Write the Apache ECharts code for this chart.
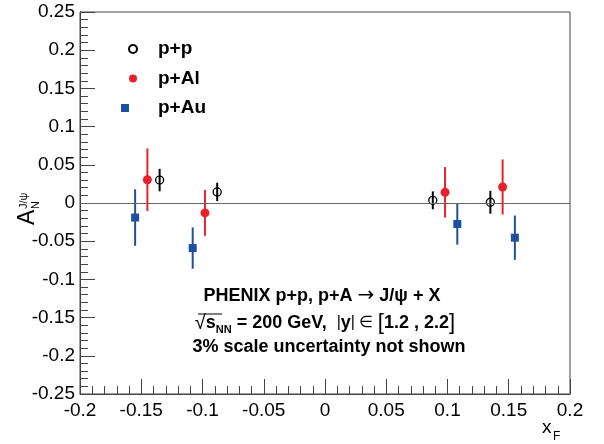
<!DOCTYPE html>
<html>
<head>
<meta charset="utf-8">
<script src="https://cdn.jsdelivr.net/npm/echarts@6/dist/echarts.min.js"></script>
<style>
html, body { margin: 0; padding: 0; background: #fff; }
#main { width: 604px; height: 444px; }
</style>
</head>
<body>
<div id="main"></div>
<script>
// p+p
var ppX = [-0.135, -0.088, 0.088, 0.135];
var ppY = [0.030, 0.0145, 0.0035, 0.001];
var ppErr = [0.0147, 0.012, 0.0117, 0.015];
// p+Al
var alX = [-0.145, -0.098, 0.098, 0.145];
var alY = [0.0305, -0.013, 0.014, 0.021];
var alErr = [0.041, 0.030, 0.033, 0.036];
// p+Au
var auX = [-0.155, -0.108, 0.108, 0.155];
var auY = [-0.019, -0.059, -0.0275, -0.0454];
var auErr = [0.037, 0.027, 0.027, 0.029];

var legendName = ['p+p', 'p+Al', 'p+Au'];
var xRange = [-0.2, 0.2];
var yRange = [-0.25, 0.25];

var FONT = 'Liberation Sans, Arial, sans-serif';
var RED = '#e8222a';
var BLUE = '#1f4f9f';

function toPoints(xs, ys, errs) {
    var arr = [];
    for (var i = 0, len = xs.length; i < len; i++) {
        arr.push([xs[i], ys[i], errs[i]]);
    }
    return arr;
}

//误差棒
function errorBar(name, color, width, xs, ys, errs) {
    return {
        name: name + ' err',
        type: 'custom',
        z: 3,
        data: toPoints(xs, ys, errs),
        renderItem: function(params, api) {
            var x = api.value(0), y = api.value(1), e = api.value(2);
            var p1 = api.coord([x, y + e]);
            var p2 = api.coord([x, y - e]);
            return {
                type: 'line',
                shape: { x1: p1[0], y1: p1[1], x2: p2[0], y2: p2[1] },
                style: { stroke: color, lineWidth: width }
            };
        }
    };
}

function marker(name, symbol, size, itemStyle, xs, ys) {
    var data = [];
    for (var i = 0, len = xs.length; i < len; i++) {
        data.push([xs[i], ys[i]]);
    }
    itemStyle.opacity = 1;
    return {
        name: name,
        type: 'scatter',
        symbol: symbol,
        symbolSize: size,
        z: 4,
        itemStyle: itemStyle,
        data: data
    };
}

var axisStyle = {
    axisLine: { show: true, onZero: false, lineStyle: { color: '#444', width: 1 } },
    axisTick: { show: true, inside: true, length: 15, lineStyle: { color: '#444' } },
    minorTick: { show: true, splitNumber: 5, length: 8, lineStyle: { color: '#444' } },
    splitLine: { show: false }
};

var pp = marker('p+p', 'circle', 8, { color: 'rgba(255,255,255,0)', borderColor: '#000', borderWidth: 1.3 }, ppX, ppY);
pp.markLine = {
    silent: true,
    symbol: 'none',
    label: { show: false },
    lineStyle: { color: '#666', width: 1, type: 'solid' },
    data: [{ yAxis: 0 }]
};

var option = {
    animation: false,
    backgroundColor: '#fff',
    grid: { left: 80, right: 34, top: 12, bottom: 50, show: true, borderColor: '#444', borderWidth: 1 },
    xAxis: Object.assign({
        type: 'value',
        min: xRange[0],
        max: xRange[1],
        interval: 0.05
    }, axisStyle, {
        axisLabel: { color: '#000', fontSize: 19, fontFamily: FONT, margin: 7, showMinLabel: true, showMaxLabel: true }
    }),
    yAxis: Object.assign({
        type: 'value',
        min: yRange[0],
        max: yRange[1],
        interval: 0.05
    }, axisStyle, {
        axisLabel: { color: '#000', fontSize: 19, fontFamily: FONT, margin: 5, showMinLabel: true, showMaxLabel: true }
    }),
    legend: {
        data: legendName,
        orient: 'vertical',
        left: 116,
        top: 33,
        itemWidth: 24,
        itemHeight: 8,
        itemGap: 7.5,
        textStyle: { color: '#000', fontSize: 19, fontWeight: 'bold', fontFamily: FONT, lineHeight: 22, padding: [0, 0, 0, 8] }
    },
    series: [
        errorBar('p+Au', BLUE, 2, auX, auY, auErr),
        errorBar('p+Al', RED, 2, alX, alY, alErr),
        marker('p+Au', 'square', 8, { color: BLUE }, auX, auY),
        marker('p+Al', 'circle', 9, { color: RED }, alX, alY),
        pp,
        errorBar('p+p', '#000', 2, ppX, ppY, ppErr)
    ],
    graphic: [
        // 纵轴标题 A_N^{J/psi}
        {
            type: 'group', x: 39, y: 225, rotation: Math.PI / 2,
            children: [
                { type: 'text', x: 0, y: 0, style: { text: 'A', font: '23px ' + FONT, fill: '#000', textVerticalAlign: 'bottom' } },
                { type: 'text', x: 16, y: 2, style: { text: 'N', font: '11px ' + FONT, fill: '#000', textVerticalAlign: 'bottom' } },
                { type: 'text', x: 16, y: -10, style: { text: 'J/\u03c8', font: '11px ' + FONT, fill: '#000', textVerticalAlign: 'bottom' } }
            ]
        },
        // 横轴标题 x_F
        { type: 'text', x: 542, y: 437, style: { text: 'x', font: '19px ' + FONT, fill: '#000', textVerticalAlign: 'bottom' } },
        { type: 'text', x: 553, y: 443, style: { text: 'F', font: '12px ' + FONT, fill: '#000', textVerticalAlign: 'bottom' } },
        // 说明文字
        {
            type: 'text', x: 322, y: 296,
            style: {
                text: '{b|PHENIX p+p, p+A }{a|\u2192}{b| J/\u03c8 + X}',
                textAlign: 'center',
                textVerticalAlign: 'middle',
                rich: {
                    b: { fontSize: 18, fontWeight: 'bold', fontFamily: FONT, color: '#000', lineHeight: 24 },
                    a: { fontSize: 20, fontFamily: 'DejaVu Sans', color: '#000', lineHeight: 24 }
                }
            }
        },
        {
            type: 'text', x: 325, y: 323,
            style: {
                text: '{r|\u221a}{b|s}{sub|NN}{b| = 200 GeV,  }{n||}{b|y}{n||}{n| \u2208 }{k|[}{b|1.2 , 2.2}{k|]}',
                textAlign: 'center',
                textVerticalAlign: 'middle',
                rich: {
                    r: { fontSize: 20, fontFamily: FONT, color: '#000', lineHeight: 24 },
                    b: { fontSize: 18, fontWeight: 'bold', fontFamily: FONT, color: '#000', lineHeight: 24 },
                    sub: { fontSize: 11, fontWeight: 'bold', fontFamily: FONT, color: '#000', lineHeight: 12, verticalAlign: 'bottom' },
                    n: { fontSize: 16, fontFamily: FONT, color: '#000', lineHeight: 24 },
                    k: { fontSize: 22, fontFamily: FONT, color: '#000', lineHeight: 24 }
                }
            }
        },
        { type: 'line', shape: { x1: 198, y1: 314, x2: 222, y2: 314 }, style: { stroke: '#000', lineWidth: 1 } },
        {
            type: 'text', x: 329, y: 347,
            style: { text: '3% scale uncertainty not shown', font: 'bold 18px ' + FONT, fill: '#000', textAlign: 'center', textVerticalAlign: 'middle' }
        }
    ]
};

var doc = document.getElementById('main');
echarts.init(doc).setOption(option);
</script>
</body>
</html>
